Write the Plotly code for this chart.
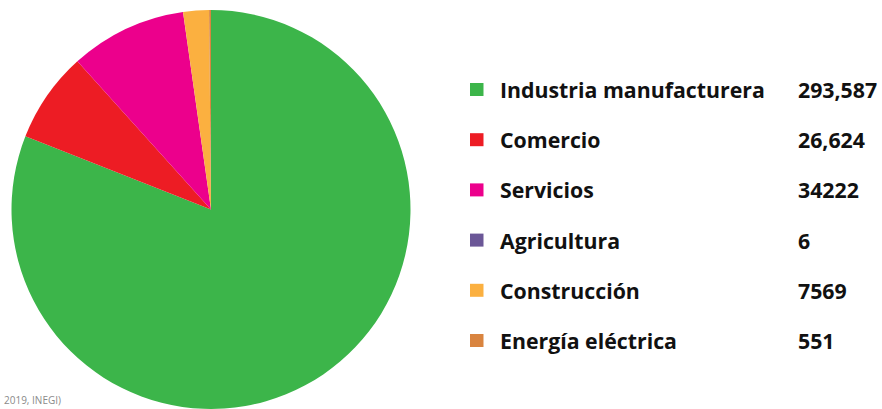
import plotly.graph_objects as go

categories = ["Industria manufacturera", "Comercio", "Servicios", "Agricultura", "Construcción", "Energía eléctrica"]
values = [293587, 26624, 34222, 6, 7569, 551]
value_labels = ["293,587", "26,624", "34222", "6", "7569", "551"]
colors = ["#3CB54A", "#ED1C24", "#EC008C", "#6B5797", "#FBB040", "#D9843F"]
source_text = "2019, INEGI)"

W, H = 882, 409
MT, MB = 10, 0
PH = H - MT - MB

def px_x(x):
    return x / W

def px_y(y):
    return (H - MB - y) / PH

fig = go.Figure()
fig.add_trace(go.Pie(
    labels=categories,
    values=values,
    marker=dict(colors=colors, line=dict(width=0)),
    sort=False,
    direction="clockwise",
    rotation=0,
    textinfo="none",
    hoverinfo="label+value",
    showlegend=False,
    domain=dict(x=[px_x(11), px_x(411)], y=[0, 1]),
))

font_family = "Open Sans, Montserrat, sans-serif"
row_y0, row_step = 89.5, 50.2
shapes = []
annotations = []
for i, (cat, lab, col) in enumerate(zip(categories, value_labels, colors)):
    cy = row_y0 + i * row_step
    shapes.append(dict(type="rect", xref="paper", yref="paper",
                       x0=px_x(470), x1=px_x(483.5), y0=px_y(cy + 6.5), y1=px_y(cy - 6.5),
                       fillcolor=col, line=dict(width=0)))
    annotations.append(dict(text=cat, xref="paper", yref="paper", x=px_x(498), y=px_y(cy),
                            xanchor="left", yanchor="middle", showarrow=False,
                            font=dict(family=font_family, size=21.3, color="#111111", weight=700)))
    annotations.append(dict(text=lab, xref="paper", yref="paper", x=px_x(796), y=px_y(cy),
                            xanchor="left", yanchor="middle", showarrow=False,
                            font=dict(family=font_family, size=21.3, color="#111111", weight=700)))

annotations.append(dict(text=source_text, xref="paper", yref="paper", x=px_x(2), y=0,
                        xanchor="left", yanchor="bottom", yshift=0, showarrow=False,
                        font=dict(family=font_family, size=10, color="#8a8a8a")))

fig.update_layout(
    width=W, height=H,
    margin=dict(l=0, r=0, t=MT, b=MB),
    paper_bgcolor="white", plot_bgcolor="white",
    shapes=shapes, annotations=annotations,
)

fig.write_html("out.html", config={"displayModeBar": False},
               post_script="document.body.style.margin='0';document.body.style.padding='0';document.body.style.overflow='hidden';")
